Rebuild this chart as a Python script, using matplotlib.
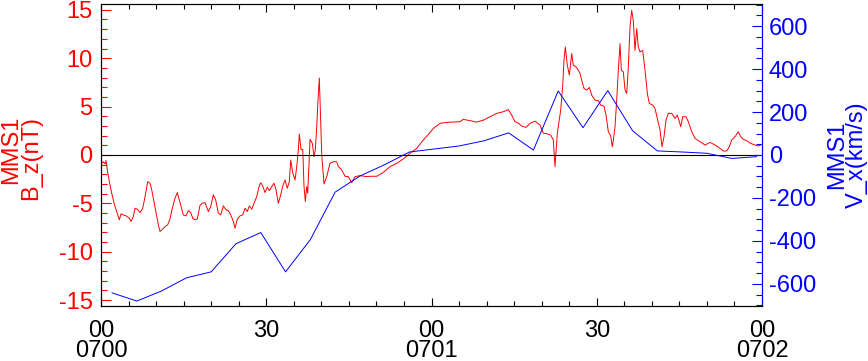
import matplotlib
matplotlib.use("Agg")
import matplotlib.pyplot as plt
from matplotlib.ticker import MultipleLocator

plt.rcParams['font.family'] = ['Liberation Sans', 'DejaVu Sans']
plt.rcParams['axes.unicode_minus'] = False

# MMS1 Bz (nT), minutes after 07:00
t_bz = [0.13, 0.42, 0.73, 0.91, 1.14, 1.51, 1.94, 2.36, 2.85, 3.32, 3.63, 4.05, 4.54, 5.14, 5.45,
        5.86, 6.17, 6.59, 7.08, 7.57, 7.99, 8.48, 8.90, 9.20, 9.49, 9.98, 10.40, 10.71, 11.20, 11.62,
        12.11, 12.53, 12.94, 13.43, 13.85, 14.21, 14.52, 14.94, 15.43, 15.85, 16.28, 16.65, 17.06, 17.48,
        17.97, 18.39, 18.88, 19.48, 19.91, 20.39, 20.82, 21.29, 21.73, 22.20, 22.69, 23.11, 23.55, 24.02,
        24.33, 24.74, 25.23, 25.72, 26.14, 26.56, 26.92, 27.36, 27.78, 28.27, 28.68, 28.99, 29.36, 29.77,
        30.19, 30.55, 30.99, 31.41, 31.77, 32.19, 32.62, 32.99, 33.40, 33.82, 34.18, 34.44, 34.80, 35.22,
        35.53, 35.82, 36.00, 36.31, 36.62, 36.85, 37.09, 37.34, 37.52, 37.71, 37.94, 38.36, 38.67, 38.90,
        39.16, 39.39, 39.63, 40.07, 40.48, 40.97, 41.57, 42.17, 42.79, 43.08, 43.70, 44.30, 44.90, 45.51,
        46.11, 47.02, 48.24, 48.83, 50.05, 51.25, 52.47, 53.68, 54.88, 56.10, 57.31, 58.51, 59.60, 60.33,
        61.54, 62.76, 63.96, 65.17, 65.77, 66.99, 68.20, 69.40, 70.62, 71.83, 73.03, 73.94, 74.56, 75.16,
        75.76, 76.37, 77.15, 77.88, 78.79, 79.70, 80.30, 80.91, 81.64, 82.11, 82.42, 82.84, 83.45, 83.82,
        84.05, 84.29, 84.65, 85.02, 85.45, 85.74, 86.23, 86.65, 86.96, 87.27, 87.68, 88.17, 88.65, 89.08,
        89.68, 90.28, 90.72, 91.31, 91.68, 92.10, 92.53, 92.82, 93.00, 93.31, 93.62, 93.91, 94.22, 94.46,
        94.82, 95.13, 95.44, 95.73, 96.03, 96.34, 96.63, 96.94, 97.25, 97.54, 97.85, 98.34, 98.76, 99.18,
        99.54, 100.15, 100.57, 100.99, 101.48, 101.84, 102.21, 102.57, 102.99, 103.61, 104.20, 104.62,
        104.99, 105.24, 105.60, 106.20, 106.62, 107.24, 107.84, 108.44, 109.05, 109.65, 110.56, 111.47,
        112.37, 112.97, 113.59, 114.06, 114.49, 115.10, 115.70, 116.13, 116.60, 117.22, 117.94, 118.73,
        119.33, 119.76]
bz = [-0.86, -0.69, -0.93, -0.58, -1.55, -2.75, -3.95, -4.98, -5.84, -6.70, -6.08, -6.19, -6.29, -6.53, -6.87,
      -6.36, -5.50, -5.60, -5.95, -5.50, -4.30, -2.75, -2.92, -3.60, -4.47, -6.00, -7.20, -7.90, -7.66, -7.40,
      -7.20, -6.60, -5.50, -4.47, -3.88, -4.64, -5.33, -6.19, -6.29, -5.74, -5.95, -6.53, -6.70, -6.60,
      -5.20, -4.98, -4.92, -5.84, -5.33, -4.12, -4.64, -6.00, -6.19, -5.26, -5.67, -5.74, -6.19, -6.87,
      -7.56, -6.63, -6.29, -6.19, -5.50, -5.84, -5.26, -5.60, -4.98, -4.30, -3.27, -2.86, -3.20, -3.88,
      -3.33, -3.68, -3.27, -2.92, -3.60, -4.98, -4.12, -3.20, -2.58, -3.44, -2.75, -0.52, -1.82, -2.58,
      -1.20, 0.52, 2.16, 0.58, 0.58, -3.27, -4.81, -3.27, -3.95, -1.55, 1.62, 1.20, -0.17, 0.52,
      2.92, 5.67, 7.95, 0.00, -3.00, -2.24, -0.86, -0.69, -0.70, -1.20, -1.55, -2.20, -2.24, -2.86,
      -2.24, -2.13, -2.24, -2.20, -2.20, -1.80, -1.20, -0.86, -0.40, 0.17, 0.69, 1.55, 2.24, 2.75,
      3.27, 3.37, 3.40, 3.44, 3.68, 3.55, 3.40, 3.60, 3.95, 4.30, 4.47, 4.68, 4.12, 3.44,
      3.30, 2.99, 2.85, 3.27, 3.50, 3.09, 2.24, 2.20, 2.06, 1.55, -1.20, 2.24, 4.64, 7.20,
      9.80, 11.16, 9.28, 8.25, 10.48, 9.28, 9.10, 8.76, 8.42, 7.73, 6.87, 6.70, 6.98, 6.19,
      5.67, 5.60, 5.15, 5.05, 4.12, 2.40, 1.96, 0.86, 1.50, 2.92, 5.67, 8.76, 11.50, 8.76,
      8.59, 6.70, 6.36, 9.10, 13.20, 14.95, 13.90, 10.80, 13.06, 11.16, 10.65, 10.80, 8.76, 6.36,
      5.33, 5.15, 4.81, 3.78, 2.58, 0.86, 1.89, 3.61, 4.30, 4.30, 3.78, 4.12,
      3.44, 2.92, 3.95, 3.95, 3.44, 2.40, 1.72, 1.48, 1.27, 1.03, 1.30, 1.03,
      0.69, 0.41, 0.41, 0.86, 1.55, 1.89, 2.40, 1.89, 1.62, 1.48, 1.20, 1.03,
      0.93, 1.03]

# MMS1 Vx (km/s)
t_vx = [2.0, 6.5, 11.0, 15.5, 20.0, 24.5, 29.0, 33.5, 38.0, 42.5, 47.0, 51.5, 56.0, 60.5,
        65.0, 69.5, 74.0, 78.5, 83.0, 87.5, 92.0, 96.5, 101.0, 105.5, 110.0, 114.5, 119.0]
vx = [-642, -680, -633, -572, -544, -413, -361, -544, -394, -173, -98, -45, 14, 28,
      42, 66, 103, 23, 298, 127, 300, 113, 19, 14, 8, -16, -8]

xticks = [0, 30, 60, 90, 120]
xticklabels = ['00\n0700', '30', '00\n0701', '30', '00\n0702']

fig = plt.figure(figsize=(8.68, 3.61), dpi=100)
ax = fig.add_axes([0.1164, 0.1524, 0.7615, 0.8365])
ax2 = ax.twinx()

ax.plot(t_bz, bz, color='red', lw=0.7)
ax.axhline(0, color='black', lw=0.8)
ax2.plot(t_vx, vx, color='blue', lw=0.7)

ax.set_xlim(0, 120)
ax.set_ylim(-15.6, 15.6)
ax2.set_ylim(-703, 703)

ax.set_xticks(xticks)
ax.set_xticklabels(xticklabels, fontsize=17, linespacing=0.88)
ax.xaxis.set_minor_locator(MultipleLocator(5))
ax.yaxis.set_major_locator(MultipleLocator(5))
ax.yaxis.set_minor_locator(MultipleLocator(1))
ax2.yaxis.set_major_locator(MultipleLocator(200))
ax2.yaxis.set_minor_locator(MultipleLocator(50))

ax.tick_params(axis='x', which='both', direction='in', top=True, colors='black', pad=10)
ax.tick_params(axis='x', which='major', length=6, width=0.8)
ax.tick_params(axis='x', which='minor', length=3.5, width=0.8)
ax.tick_params(axis='y', which='both', direction='in', colors='red', labelsize=17, pad=6)
ax.tick_params(axis='y', which='major', length=7, width=0.8)
ax.tick_params(axis='y', which='minor', length=4, width=0.8)
ax2.tick_params(axis='y', which='both', direction='in', colors='blue', labelsize=17, pad=5)
ax2.tick_params(axis='y', which='major', length=7, width=0.8)
ax2.tick_params(axis='y', which='minor', length=4, width=0.8)

for s in ax.spines.values():
    s.set_linewidth(0.8)
ax2.spines['right'].set_color('blue')

fig.text(42 / 868, 1 - 200 / 361, 'MMS1\nB_z(nT)', color='red', fontsize=17, rotation=90,
         ha='right', va='bottom', multialignment='right', linespacing=0.9)
fig.text(826 / 868, 1 - 155 / 361, 'MMS1\nV_x(km/s)', color='blue', fontsize=17, rotation=90,
         ha='left', va='center', multialignment='center', linespacing=0.9)

fig.savefig('out.png', dpi=100)
